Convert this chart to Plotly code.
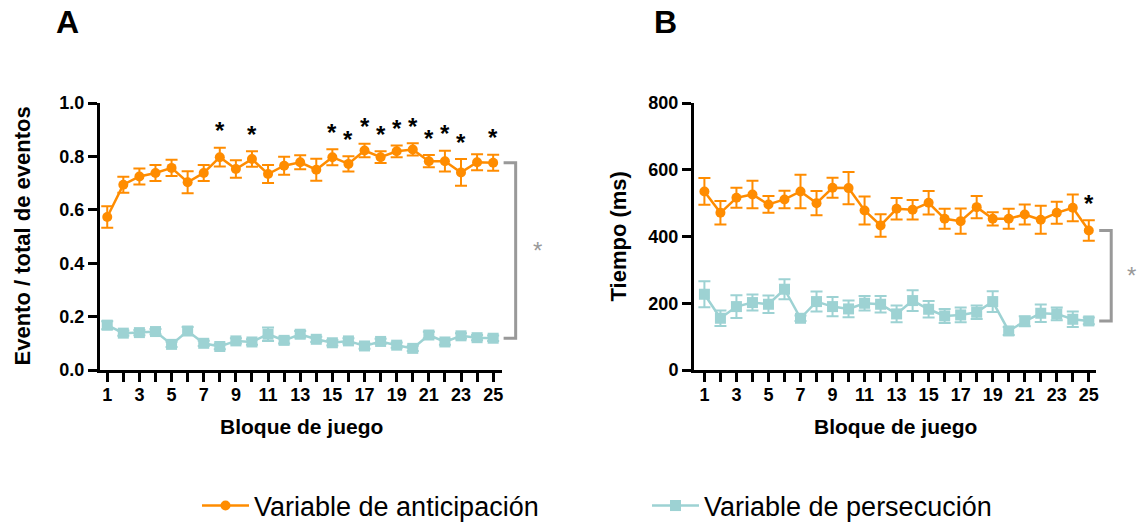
import plotly.graph_objects as go

# ---------------- data ----------------
blocks = list(range(1, 26))
tick_labels = [str(b) if b % 2 == 1 else "" for b in blocks]

# Panel A: Evento / total de eventos
antic_prop = [0.573, 0.694, 0.725, 0.738, 0.757, 0.703, 0.738, 0.797, 0.753, 0.790,
              0.734, 0.765, 0.778, 0.750, 0.797, 0.772, 0.822, 0.797, 0.819, 0.826,
              0.782, 0.782, 0.740, 0.778, 0.776]
antic_prop_sem = [0.040, 0.030, 0.030, 0.030, 0.030, 0.041, 0.030, 0.035, 0.033, 0.029,
                  0.034, 0.034, 0.026, 0.041, 0.030, 0.029, 0.025, 0.022, 0.022, 0.023,
                  0.023, 0.039, 0.050, 0.030, 0.030]
pers_prop = [0.168, 0.138, 0.140, 0.144, 0.096, 0.146, 0.100, 0.088, 0.109, 0.105,
             0.134, 0.111, 0.134, 0.115, 0.102, 0.109, 0.090, 0.107, 0.093, 0.081,
             0.131, 0.105, 0.128, 0.121, 0.119]
pers_prop_sem = [0.015, 0.010, 0.010, 0.010, 0.010, 0.015, 0.010, 0.010, 0.010, 0.010,
                 0.025, 0.012, 0.012, 0.010, 0.010, 0.010, 0.010, 0.010, 0.010, 0.010,
                 0.012, 0.010, 0.010, 0.010, 0.010]
sig_blocks_prop = [8, 10, 15, 16, 17, 18, 19, 20, 21, 22, 23, 25]

# Panel B: Tiempo (ms)
antic_ms = [535, 471, 516, 526, 496, 511, 535, 500, 546, 545,
            478, 433, 483, 480, 501, 453, 446, 488, 453, 453,
            466, 450, 471, 486, 418]
antic_ms_sem = [40, 35, 30, 41, 25, 26, 50, 36, 30, 48,
                42, 34, 32, 29, 35, 30, 38, 33, 20, 30,
                30, 42, 33, 40, 31]
pers_ms = [227, 155, 190, 202, 197, 242, 155, 205, 190, 183,
           200, 197, 168, 208, 182, 162, 165, 173, 205, 117,
           146, 170, 168, 152, 147]
pers_ms_sem = [39, 23, 34, 24, 26, 30, 8, 30, 29, 25,
               22, 25, 25, 31, 25, 21, 22, 20, 31, 12,
               15, 26, 19, 23, 10]
sig_blocks_ms = [25]

y_ticks_prop = [0.0, 0.2, 0.4, 0.6, 0.8, 1.0]
y_ticks_ms = [0, 200, 400, 600, 800]

name_antic = "Variable de anticipación"
name_pers = "Variable de persecución"

# ---------------- style / layout ----------------
ORANGE = "#FF8C00"
TEAL = "#9DD2D3"
GRAY = "#999999"
FONT = "Liberation Sans, Arial, sans-serif"
W, H = 1137, 523

A_dom = [100 / W, 502 / W]
A_rng = [0.55, 25.55]
B_dom = [694 / W, 1096 / W]
B_rng = [0.35, 25.45]
ydom = [1 - 370 / H, 1 - 103 / H]


def extension(dom, rng, end):
    """Invisible axis continuing the same scale to the right of a panel."""
    per = (rng[1] - rng[0]) / (dom[1] - dom[0])
    return [dom[1], end], [rng[1], rng[1] + (end - dom[1]) * per]


A_ext_dom, A_ext_rng = extension(A_dom, A_rng, 560 / W)
B_ext_dom, B_ext_rng = extension(B_dom, B_rng, 1.0)

fig = go.Figure()


def add_series(x_ax, y_ax, y, err, color, symbol, msize, name, legend, show):
    fig.add_trace(go.Scatter(
        x=blocks, y=y, mode="lines+markers", name=name,
        xaxis=x_ax, yaxis=y_ax,
        line=dict(color=color, width=2.5),
        marker=dict(color=color, symbol=symbol, size=msize),
        error_y=dict(type="data", array=err, visible=True, color=color,
                     thickness=2, width=6),
        showlegend=show, legend=legend, cliponaxis=False,
    ))


add_series("x", "y", pers_prop, pers_prop_sem, TEAL, "square", 11, name_pers, "legend2", True)
add_series("x", "y", antic_prop, antic_prop_sem, ORANGE, "circle", 10, name_antic, "legend", True)
add_series("x2", "y2", pers_ms, pers_ms_sem, TEAL, "square", 11, name_pers, "legend2", False)
add_series("x2", "y2", antic_ms, antic_ms_sem, ORANGE, "circle", 10, name_antic, "legend", False)

annotations = []


def add_stars(xr, yr, sig, means, sems):
    for b in sig:
        i = blocks.index(b)
        annotations.append(dict(
            x=b, y=means[i] + sems[i], xref=xr, yref=yr, text="*", showarrow=False,
            yshift=17, font=dict(family=FONT, size=24, color="black", weight="bold"),
        ))


add_stars("x", "y", sig_blocks_prop, antic_prop, antic_prop_sem)
add_stars("x2", "y2", sig_blocks_ms, antic_ms, antic_ms_sem)


def add_bracket(xr, yr, y_top, y_bot, star_x):
    x0, x1 = 25.65, 26.4
    fig.add_trace(go.Scatter(
        x=[x0, x1, x1, x0], y=[y_top, y_top, y_bot, y_bot], mode="lines",
        xaxis=xr, yaxis=yr, line=dict(color=GRAY, width=3),
        showlegend=False, hoverinfo="skip",
    ))
    annotations.append(dict(
        x=star_x, y=(y_top + y_bot) / 2, xref=xr, yref=yr, text="*", showarrow=False,
        font=dict(family=FONT, size=24, color=GRAY),
    ))


add_bracket("x3", "y", antic_prop[-1], pers_prop[-1], 27.75)
add_bracket("x4", "y2", antic_ms[-1], pers_ms[-1], 27.65)

TITLE_FONT = dict(family=FONT, size=21, color="black", weight="bold")
for xr, yr, xt, ytitle, xpix in [("x domain", "y domain", "Bloque de juego", "Evento / total de eventos", 22),
                                  ("x2 domain", "y2 domain", "Bloque de juego", "Tiempo (ms)", 618)]:
    annotations.append(dict(x=0.5, y=1 - 426 / H, xref=xr, yref="paper", text=xt,
                            showarrow=False, xanchor="center", yanchor="middle",
                            font=TITLE_FONT))
    annotations.append(dict(x=xpix / W, y=0.5, xref="paper", yref=yr, text=ytitle,
                            textangle=-90, showarrow=False, xanchor="center", yanchor="middle",
                            font=dict(TITLE_FONT, size=22)))

for letter, xpix in [("A", 67), ("B", 665)]:
    annotations.append(dict(x=xpix / W, y=1 - 22 / H, xref="paper", yref="paper",
                            text=letter, showarrow=False, xanchor="center", yanchor="middle",
                            font=dict(family=FONT, size=32, color="black", weight="bold")))

axis_common = dict(showline=True, linecolor="black", linewidth=3, ticks="outside",
                   ticklen=9, tickwidth=3, tickcolor="black", showgrid=False, zeroline=False,
                   tickfont=dict(family=FONT, size=18, color="black", weight="bold"))

LEG_FONT = dict(family=FONT, size=27, color="black")

fig.update_layout(
    width=W, height=H,
    margin=dict(l=0, r=0, t=0, b=0, autoexpand=False),
    paper_bgcolor="white", plot_bgcolor="white",
    font=dict(family=FONT, color="black"),
    xaxis=dict(domain=A_dom, range=A_rng, anchor="y", ticklabelstandoff=-3,
               tickmode="array", tickvals=blocks, ticktext=tick_labels, **axis_common),
    yaxis=dict(domain=ydom, range=[0, 1.0], anchor="x", tickmode="array",
               tickvals=y_ticks_prop, tickformat=".1f", **axis_common),
    xaxis2=dict(domain=B_dom, range=B_rng, anchor="y2", ticklabelstandoff=-3,
                tickmode="array", tickvals=blocks, ticktext=tick_labels, **axis_common),
    yaxis2=dict(domain=ydom, range=[0, 800], anchor="x2", tickmode="array",
                tickvals=y_ticks_ms, **axis_common),
    xaxis3=dict(domain=A_ext_dom, range=A_ext_rng, anchor="y", visible=False),
    xaxis4=dict(domain=B_ext_dom, range=B_ext_rng, anchor="y2", visible=False),
    legend=dict(x=197 / W, y=1 - 506 / H, xanchor="left", yanchor="middle",
                orientation="h", itemwidth=47, bgcolor="rgba(0,0,0,0)", font=LEG_FONT),
    legend2=dict(x=647 / W, y=1 - 506 / H, xanchor="left", yanchor="middle",
                 orientation="h", itemwidth=47, bgcolor="rgba(0,0,0,0)", font=LEG_FONT),
    annotations=annotations,
)

fig.write_html("out.html")
